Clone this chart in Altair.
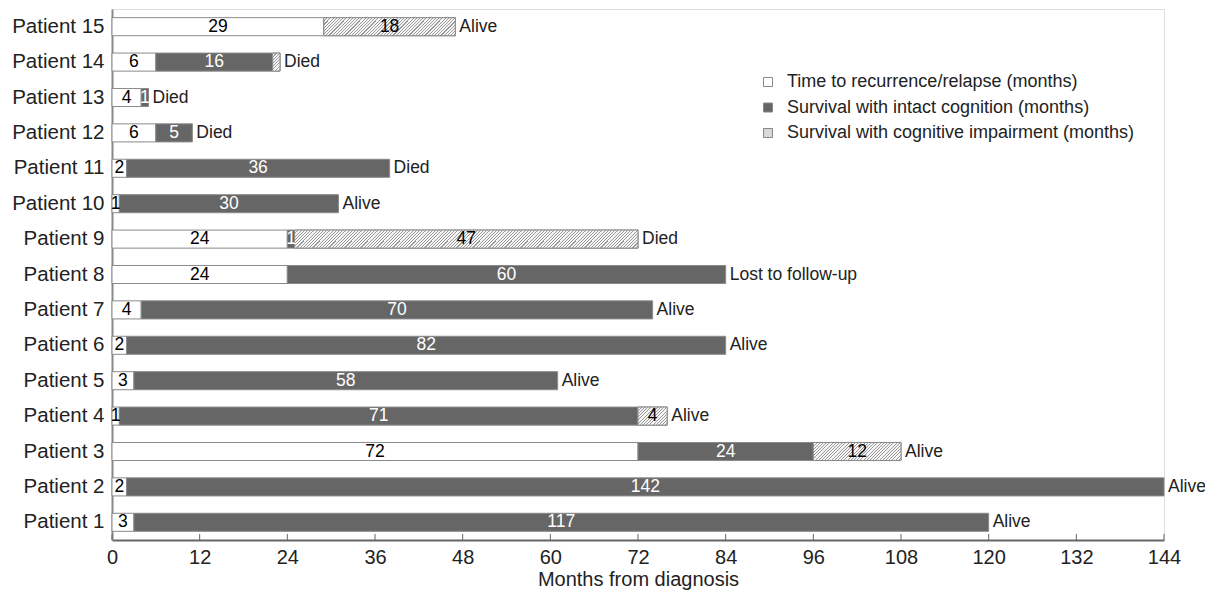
import altair as alt
import pandas as pd

patients = [f"Patient {i}" for i in range(1, 16)]
recurrence = [3, 2, 72, 1, 3, 2, 4, 24, 24, 1, 2, 6, 4, 6, 29]
intact = [117, 142, 24, 71, 58, 82, 70, 60, 1, 30, 36, 5, 1, 16, 0]
impaired = [0, 0, 12, 4, 0, 0, 0, 0, 47, 0, 0, 0, 0, 1, 18]
outcome = ["Alive", "Alive", "Alive", "Alive", "Alive", "Alive", "Alive",
           "Lost to follow-up", "Died", "Alive", "Died", "Died", "Died", "Died", "Alive"]
categories = ["Time to recurrence/relapse (months)",
              "Survival with intact cognition (months)",
              "Survival with cognitive impairment (months)"]
x_ticks = list(range(0, 145, 12))

W, H = 1052, 531
PX = W / 144.0
BAR_H = 18
FONT = "Liberation Sans"

rows = []
for i, p in enumerate(patients):
    start = 0
    for cat, vals in zip(categories, [recurrence, intact, impaired]):
        v = vals[i]
        if v > 0:
            show = not (cat == categories[2] and v == 1)
            rows.append(dict(patient=p, cat=cat, value=v, start=start, end=start + v,
                             mid=start + v / 2, label=str(v) if show else "",
                             txtcol="white" if cat == categories[1] else "black"))
            start += v
seg = pd.DataFrame(rows)
ends = pd.DataFrame(dict(patient=patients,
                         total=[a + b + c for a, b, c in zip(recurrence, intact, impaired)],
                         outcome=outcome))
ticks_df = pd.DataFrame(dict(t=x_ticks))

order = list(reversed(patients))
xscale = alt.Scale(domain=[0, 144], nice=False, zero=False)
yenc = alt.Y("patient:N", sort=order, scale=alt.Scale(paddingInner=0.49, paddingOuter=0.245),
             axis=alt.Axis(title=None, ticks=False, labelPadding=8, labelFontSize=20.5,
                           labelColor="#222", labelFont=FONT, domainColor="#888",
                           domainWidth=2))

base = alt.Chart(seg)

bars = base.mark_bar(stroke="#8a8a8a", strokeWidth=1, cornerRadius=0).encode(
    x=alt.X("start:Q", scale=xscale,
            axis=alt.Axis(title="Months from diagnosis", values=x_ticks, ticks=False,
                          labelFontSize=20, labelFont=FONT, labelColor="#222",
                          labelPadding=7, labelFlush=False, titleFontSize=20,
                          titleFont=FONT, titleFontWeight="normal", titleColor="#222",
                          titlePadding=2, domainColor="#666", domainWidth=2, grid=False)),
    x2="end:Q",
    y=yenc,
    fill=alt.Fill("cat:N", scale=alt.Scale(domain=categories,
                                           range=["white", "#666666", "#d8d8d8"]),
                  legend=alt.Legend(title=None, orient="none", legendX=647, legendY=64,
                                    symbolType="square", symbolSize=81,
                                    symbolStrokeColor="#888", symbolStrokeWidth=1,
                                    labelFontSize=18, labelFont=FONT, labelColor="#222",
                                    labelLimit=0, rowPadding=7.5, labelOffset=10)),
)


def hatch(w, h, period=3.2, frac=0.33):
    r = h / w
    k = (1 + r) / (1 + r * r)
    n = (w + h) / period
    stops = []
    i = 0
    while i / n < 1:
        a = i / n
        b = min((i + frac) / n, 1.0)
        stops += [dict(offset=a, color="#f6f6f6"), dict(offset=a, color="#9a9a9a"),
                  dict(offset=b, color="#9a9a9a"), dict(offset=b, color="#f6f6f6")]
        i += 1
    stops.append(dict(offset=1.0, color="#f6f6f6"))
    return dict(gradient="linear", x1=0, y1=0, x2=k, y2=k * r, stops=stops)


hatch_layers = []
for _, r in seg[seg["cat"] == categories[2]].iterrows():
    g = hatch(r["value"] * PX, BAR_H)
    hatch_layers.append(
        base.transform_filter(
            (alt.datum.patient == r["patient"]) & (alt.datum.cat == categories[2])
        ).mark_bar(fill=g, stroke="#8a8a8a", strokeWidth=1).encode(
            x=alt.X("start:Q", scale=xscale), x2="end:Q", y=yenc)
    )

labels = base.mark_text(fontSize=17.5, font=FONT, baseline="middle").encode(
    x=alt.X("mid:Q", scale=xscale), y=yenc, text="label:N",
    color=alt.Color("txtcol:N", scale=None),
)

out_text = alt.Chart(ends).mark_text(fontSize=17.5, font=FONT, align="left", dx=4,
                                     baseline="middle", color="#222").encode(
    x=alt.X("total:Q", scale=xscale), y=yenc, text="outcome:N")

tick_marks = alt.Chart(ticks_df).mark_rule(color="#666", strokeWidth=1).encode(
    x=alt.X("t:Q", scale=xscale), y=alt.value(H), y2=alt.value(H - 6))

chart = alt.layer(bars, *hatch_layers, labels, out_text, tick_marks).properties(
    width=W, height=H,
    autosize=alt.AutoSizeParams(type="none"),
    padding={"left": 104, "top": 1, "right": 41, "bottom": 50},
).configure_view(stroke="#888", strokeWidth=1).configure(background="white")

chart.save("out.html", embed_options={"renderer": "svg", "actions": False})
